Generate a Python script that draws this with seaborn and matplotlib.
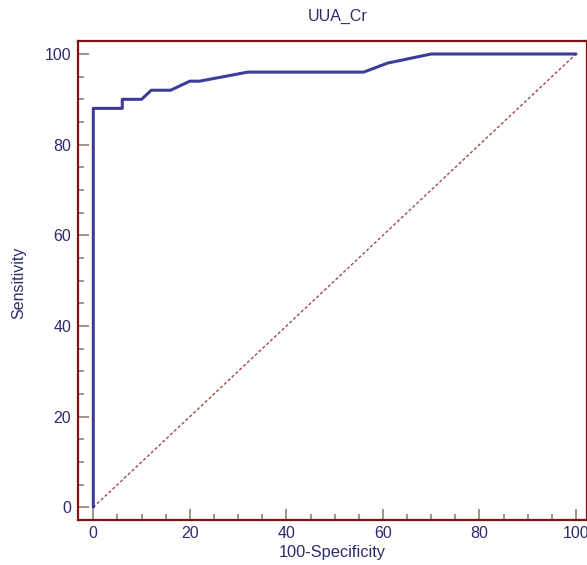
import matplotlib
matplotlib.use("Agg")
import matplotlib.pyplot as plt
from matplotlib.ticker import MultipleLocator
import seaborn as sns
import pandas as pd

# ROC curve data (100-Specificity vs Sensitivity)
fpr = [0, 0, 6, 6, 10, 12, 16, 20, 22, 32, 56, 61, 70, 100]
tpr = [0, 88, 88, 90, 90, 92, 92, 94, 94, 96, 96, 98, 100, 100]
diag_x = [0, 100]
diag_y = [0, 100]
x_ticks = [0, 20, 40, 60, 80, 100]
y_ticks = [0, 20, 40, 60, 80, 100]
title = "UUA_Cr"
xlabel = "100-Specificity"
ylabel = "Sensitivity"

sns.set_style("white")
plt.rcParams["font.family"] = ["Liberation Sans", "DejaVu Sans"]

fig = plt.figure(figsize=(5.87, 5.65), dpi=100)
ax = fig.add_axes([78.3 / 587, 1 - 520 / 565, (587 - 78.3) / 587, (520 - 40.7) / 565])

roc = pd.DataFrame({"fpr": fpr, "tpr": tpr})
diag = pd.DataFrame({"x": diag_x, "y": diag_y})

sns.lineplot(data=diag, x="x", y="y", ax=ax, sort=False, estimator=None,
             color="#a04848", linewidth=1.0, linestyle=(0, (2.2, 1.6)))
sns.lineplot(data=roc, x="fpr", y="tpr", ax=ax, sort=False, estimator=None,
             color="#3d3d99", linewidth=2.2)

ax.set_xlim(-3.11, 102.28)
ax.set_ylim(-2.80, 102.93)
ax.set_xticks(x_ticks)
ax.set_yticks(y_ticks)
ax.xaxis.set_minor_locator(MultipleLocator(5))
ax.yaxis.set_minor_locator(MultipleLocator(5))

navy = "#2b2b6e"
ax.tick_params(axis="both", which="both", bottom=True, left=True, top=False, right=False)
ax.tick_params(axis="both", which="major", direction="in", length=8, width=1.1,
               color="#8a7565", labelcolor=navy, labelsize=11.5, pad=5)
ax.tick_params(axis="both", which="minor", direction="in", length=4.3, width=1.1,
               color="#8a7565")
ax.tick_params(axis="x", which="major", pad=4)

for side in ["left", "bottom", "top", "right"]:
    ax.spines[side].set_color("#7d1414")
    ax.spines[side].set_linewidth(1.6)

ax.set_xlabel(xlabel, color=navy, fontsize=11.8, labelpad=3)
ax.set_ylabel(ylabel, color=navy, fontsize=11.5)
ax.yaxis.set_label_coords(-(78.3 - 26) / (587 - 78.3), 0.495)
ax.set_title(title, color=navy, fontsize=11.5, pad=14)
ax.title.set_position((0.51, 1.0))

fig.savefig("out.png", dpi=100)
